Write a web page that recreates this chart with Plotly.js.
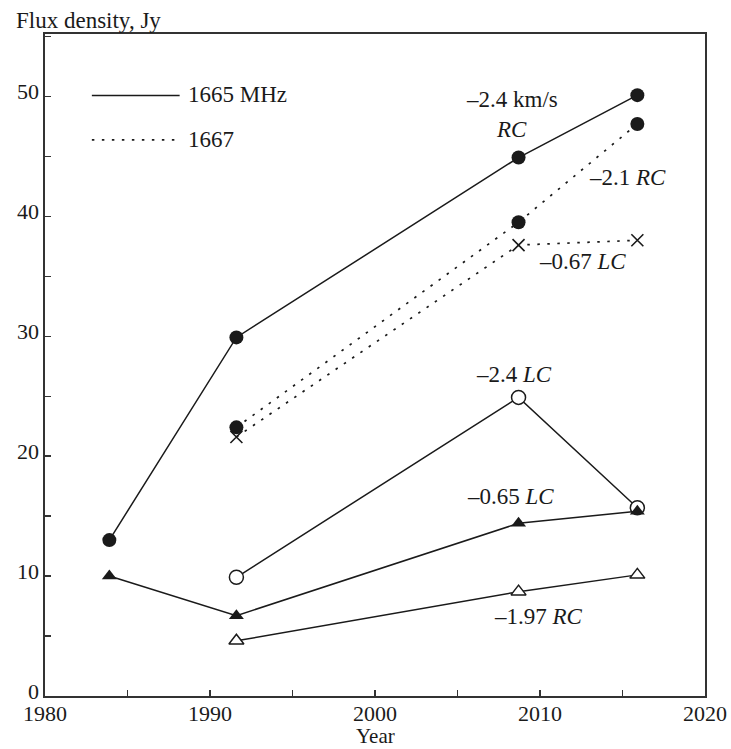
<!DOCTYPE html>
<html><head><meta charset="utf-8">
<script src="https://cdn.plot.ly/plotly-3.0.1.min.js"></script>
<style>html,body{margin:0;padding:0;background:#fff}</style>
</head><body><div id="chart" style="width:731px;height:749px"></div>
<script>
// Data
const yearsA = [1983.9, 1991.6, 2008.7, 2015.9];
const yearsB = [1991.6, 2008.7, 2015.9];
const rc1665_24 = [13.0, 29.9, 44.9, 50.1];   // 1665 MHz, -2.4 km/s RC
const rc1667_21 = [22.4, 39.5, 47.7];         // 1667, -2.1 RC
const lc1667_067 = [21.6, 37.6, 38.0];        // 1667, -0.67 LC
const lc1665_24 = [9.9, 24.9, 15.7];          // 1665, -2.4 LC
const lc1665_065 = [10.0, 6.7, 14.4, 15.4];   // 1665, -0.65 LC
const rc1665_197 = [4.6, 8.7, 10.1];          // 1665, -1.97 RC

const labels = [
  {text: '–2.4 km/s', x: 2008.3, y: 49.7},
  {text: '<i>RC</i>', x: 2008.3, y: 47.2},
  {text: '–2.1 <i>RC</i>', x: 2015.3, y: 43.2},
  {text: '–0.67 <i>LC</i>', x: 2012.6, y: 36.2},
  {text: '–2.4 <i>LC</i>', x: 2008.4, y: 26.8},
  {text: '–0.65 <i>LC</i>', x: 2008.2, y: 16.6},
  {text: '–1.97 <i>RC</i>', x: 2009.9, y: 6.6}
];

const FONT = 'Liberation Serif, Times New Roman, serif';
const FS = 23;
const INK = '#1a1a1a';
const dotted = '2.5px,7.5px';

const traces = [
  {x: yearsB, y: rc1667_21, mode: 'lines+markers',
   line: {color: INK, width: 1.7, dash: dotted},
   marker: {symbol: 'circle', size: 14, color: INK}},
  {x: yearsB, y: lc1667_067, mode: 'lines+markers',
   line: {color: INK, width: 1.7, dash: dotted},
   marker: {symbol: 'x-thin-open', size: 12, color: INK, line: {color: INK, width: 1.6}}},
  {x: yearsA, y: rc1665_24, mode: 'lines+markers',
   line: {color: INK, width: 1.5},
   marker: {symbol: 'circle', size: 14, color: INK}},
  {x: yearsB, y: lc1665_24, mode: 'lines+markers',
   line: {color: INK, width: 1.5},
   marker: {symbol: 'circle', size: 14, color: '#fff', line: {color: INK, width: 1.5}}},
  {x: yearsA, y: lc1665_065, mode: 'lines+markers',
   line: {color: INK, width: 1.5},
   marker: {symbol: 'triangle-up', size: 13, color: INK}},
  {x: yearsB, y: rc1665_197, mode: 'lines+markers',
   line: {color: INK, width: 1.5},
   marker: {symbol: 'triangle-up', size: 13, color: '#fff', line: {color: INK, width: 1.5}}}
];

const ann = labels.map(l => ({x: l.x, y: l.y, xref: 'x', yref: 'y', text: l.text,
  showarrow: false, font: {family: FONT, size: FS, color: INK}}));
ann.push({xref: 'paper', yref: 'paper', x: -0.047, y: 1.021, xanchor: 'left', yanchor: 'middle',
  text: 'Flux density, Jy', showarrow: false, font: {family: FONT, size: FS, color: INK}});
ann.push({xref: 'paper', yref: 'paper', x: 0.5, y: -0.0795, xanchor: 'center', yanchor: 'bottom',
  borderpad: 0, text: 'Year', showarrow: false, font: {family: FONT, size: 21, color: INK}});
ann.push({xref: 'paper', yref: 'paper', x: 0.213, y: 0.908, xanchor: 'left', yanchor: 'middle',
  text: '1665 MHz', showarrow: false, font: {family: FONT, size: FS, color: INK}});
ann.push({xref: 'paper', yref: 'paper', x: 0.213, y: 0.840, xanchor: 'left', yanchor: 'middle',
  text: '1667', showarrow: false, font: {family: FONT, size: FS, color: INK}});

const layout = {
  width: 731, height: 749,
  margin: {l: 45, r: 26, t: 34, b: 53},
  paper_bgcolor: '#fff', plot_bgcolor: '#fff',
  showlegend: false,
  font: {family: FONT, size: FS, color: INK},
  xaxis: {range: [1980, 2020], dtick: 10, tick0: 1980, ticks: 'inside', ticklen: 6, tickwidth: 1.3,
    tickcolor: '#333', showline: true, mirror: true, linecolor: '#333', linewidth: 1.6,
    showgrid: false, zeroline: false, ticklabelstandoff: -3,
    minor: {dtick: 5, ticks: 'inside', ticklen: 6, tickwidth: 1.3, tickcolor: '#333', showgrid: false},
    tickfont: {family: FONT, size: 22, color: INK}},
  yaxis: {range: [0, 55.2], dtick: 10, tick0: 0, ticks: 'inside', ticklen: 6, tickwidth: 1.3,
    tickcolor: '#333', showline: true, mirror: true, linecolor: '#333', linewidth: 1.6,
    showgrid: false, zeroline: false, ticklabelshift: -5,
    minor: {dtick: 5, ticks: 'inside', ticklen: 6, tickwidth: 1.3, tickcolor: '#333', showgrid: false},
    tickfont: {family: FONT, size: 22, color: INK}},
  shapes: [
    {type: 'line', xref: 'paper', yref: 'paper', x0: 0.071, x1: 0.204, y0: 0.907, y1: 0.907,
     line: {color: INK, width: 1.5}},
    {type: 'line', xref: 'paper', yref: 'paper', x0: 0.071, x1: 0.204, y0: 0.840, y1: 0.840,
     line: {color: INK, width: 1.7, dash: dotted}}
  ],
  annotations: ann
};

Plotly.newPlot('chart', traces, layout, {staticPlot: true, displayModeBar: false});
</script></body></html>
